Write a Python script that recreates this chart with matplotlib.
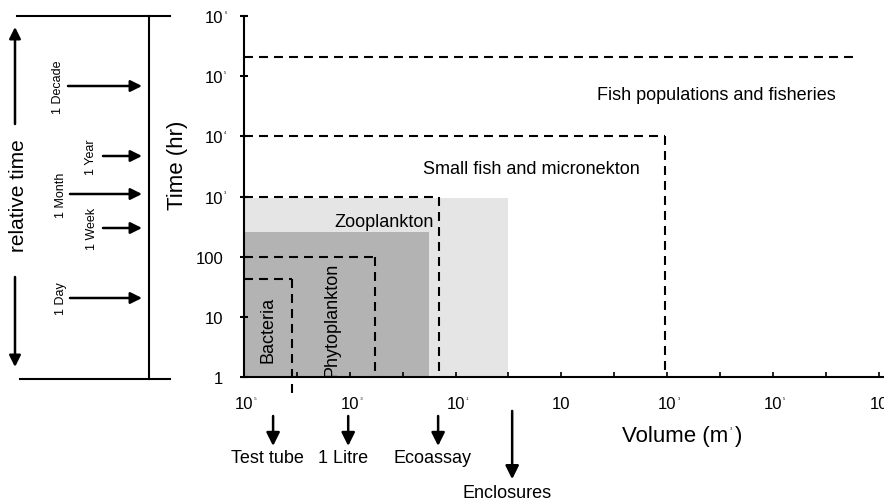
import matplotlib
matplotlib.use('Agg')
import matplotlib.pyplot as plt
import numpy as np

plt.rcParams['font.family'] = ['Liberation Sans', 'DejaVu Sans']

# dashed boxes: upper volume (m3) and time (hr) reached by each group
box_names = ['Bacteria', 'Phytoplankton', 'Zooplankton',
             'Small fish and micronekton', 'Fish populations and fisheries']
box_vol = [10**-4.1, 10**-2.52, 10**-1.31, 10**2.96, 10**6.6]
box_time = [43, 100, 1000, 1e4, 2.1e5]

# grey shaded areas (light, dark)
shade_vol = [1.0, 10**-1.5]
shade_time = [945, 260]
shade_col = ['#e5e5e5', '#b3b3b3']

# experimental systems marked under the volume axis
sys_names = ['Test tube', '1 Litre', 'Ecoassay', 'Enclosures']
sys_vol = [10**-4.45, 10**-3.03, 10**-1.33, 10**0.07]

# axis ticks
x_exp = list(range(-5, 8))
x_lab_exp = [-5, -3, -1, 1, 3, 5, 7]
y_exp = list(range(0, 7))

# relative-time panel on the left
rel_names = ['1 Decade', '1 Year', '1 Month', '1 Week', '1 Day']

W, H = 884, 502
fig = plt.figure(figsize=(W / 100, H / 100), dpi=100)

# pixel-space overlay for the schematic panel on the left
lax = fig.add_axes([0, 0, 1, 1], zorder=-1)
lax.set_xlim(0, W)
lax.set_ylim(H, 0)
lax.axis('off')

ax = fig.add_axes([244 / W, (H - 378) / H, 640 / W, 361 / H])
ax.set_xscale('log')
ax.set_yscale('log')
ax.set_xlim(1e-5, 10**7.1)
ax.set_ylim(1, 1e6)

for sp in ['top', 'right']:
    ax.spines[sp].set_visible(False)
for sp in ['left', 'bottom']:
    ax.spines[sp].set_linewidth(1.5)

# shaded areas
for v, t, c in zip(shade_vol, shade_time, shade_col):
    ax.fill_between([1e-5, v], 1, t, color=c, lw=0, zorder=1)

# dashed boxes
dash = dict(color='black', lw=1.5, dashes=(4.3, 2.9), zorder=3)
for i, (v, t) in enumerate(zip(box_vol, box_time)):
    ax.plot([1e-5, v], [t, t], **dash)
    if i < 4:
        ybot = 10**-0.35 if i == 0 else 1
        ax.plot([v, v], [t, ybot], clip_on=False, **dash)

fs = 13
ax.text(10**-4.55, 10**0.8, box_names[0], rotation=90, ha='center', va='center', fontsize=fs, zorder=4)
ax.text(10**-3.34, 10**0.96, box_names[1], rotation=90, ha='center', va='center', fontsize=fs, zorder=4)
ax.text(10**-2.35, 10**2.58, box_names[2], ha='center', va='center', fontsize=fs, zorder=4)
ax.text(10**0.425, 10**3.46, box_names[3], ha='center', va='center', fontsize=fs, zorder=4)
ax.text(10**3.94, 10**4.70, box_names[4], ha='center', va='center', fontsize=fs, zorder=4)

# ticks
ax.set_xticks([10.0**e for e in x_exp])
ax.set_xticklabels(['10' if e in x_lab_exp else '' for e in x_exp])
ax.xaxis.set_minor_locator(matplotlib.ticker.NullLocator())
ax.tick_params(axis='x', direction='in', length=3.6, width=1.2, pad=14, labelsize=12)

ax.set_yticks([10.0**e for e in y_exp])
ax.set_yticklabels(['1', '10', '100'] + ['10'] * 4)
ax.yaxis.set_minor_locator(matplotlib.ticker.NullLocator())
ax.tick_params(axis='y', direction='inout', length=5.8, width=1.5, pad=12, labelsize=12)

# tiny superscripts on the tick labels
for lbl, e in zip(ax.get_xticklabels(), x_exp):
    if e in x_lab_exp and e != 1:
        ax.annotate(str(e), xy=(1, 1), xycoords=lbl, xytext=(1, -2), textcoords='offset pixels',
                    ha='left', va='center', fontsize=3)
for lbl, e in zip(ax.get_yticklabels(), y_exp):
    if e > 2:
        ax.annotate(str(e), xy=(1, 1), xycoords=lbl, xytext=(1, -2), textcoords='offset pixels',
                    ha='left', va='center', fontsize=3)

# axis titles
ax.set_ylabel('Time (hr)', fontsize=16)
ax.yaxis.set_label_coords(-0.088, 0.59)
vl = ax.text(0.59, -0.163, 'Volume (m', transform=ax.transAxes, ha='left', va='center', fontsize=16)
ax.annotate('3', xy=(1, 1), xycoords=vl, xytext=(2, -3), textcoords='offset pixels',
            ha='left', va='center', fontsize=3)
ax.annotate(')', xy=(1, 0), xycoords=vl, xytext=(7, 0), textcoords='offset pixels',
            ha='left', va='bottom', fontsize=16)

# experimental systems
arr = dict(arrowstyle='-|>', lw=1.8, color='black', mutation_scale=20, shrinkA=0, shrinkB=0)
for name, v in zip(sys_names, sys_vol):
    big = name == 'Enclosures'
    y0, y1, yt = (-0.094, -0.283, -0.319) if big else (-0.108, -0.191, -0.222)
    ax.annotate('', xy=(v, y1), xytext=(v, y0), xycoords=('data', 'axes fraction'),
                textcoords=('data', 'axes fraction'), arrowprops=arr, annotation_clip=False)
    ax.annotate(name, xy=(v, yt), xycoords=('data', 'axes fraction'), xytext=(-4, 0),
                textcoords='offset points', ha='center', va='center', fontsize=fs,
                annotation_clip=False)

# left schematic panel
arr_l = dict(arr, mutation_scale=17)
lax.plot([17, 170], [17, 17], color='black', lw=1.5)
lax.plot([20, 170], [380, 380], color='black', lw=1.5)
lax.plot([149, 149], [17, 380], color='black', lw=1.5)
lax.annotate('', xy=(15, 28), xytext=(15, 125), arrowprops=arr_l)
lax.annotate('', xy=(15, 368), xytext=(15, 278), arrowprops=arr_l)
lax.text(19, 196, 'relative time', rotation=90, ha='center', va='center', fontsize=15)

rel_y = [87, 157, 195, 229, 299]
rel_x0 = [68, 103, 70, 103, 70]
rel_tx = [58, 91, 61, 92, 61]
for name, y, x0, tx in zip(rel_names, rel_y, rel_x0, rel_tx):
    lax.annotate('', xy=(142, y), xytext=(x0, y), arrowprops=arr_l)
    lax.text(tx, y, name, rotation=90, ha='center', va='center', fontsize=9)

fig.savefig('out.png', dpi=100)
